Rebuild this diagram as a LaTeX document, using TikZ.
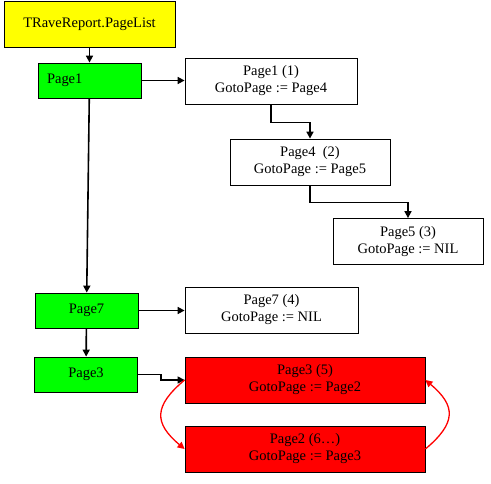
\documentclass[tikz,border=0pt]{standalone}
\usepackage{fontspec}
\setmainfont{Liberation Serif}
\usetikzlibrary{arrows.meta,positioning,calc}
\definecolor{cList}{HTML}{FFFF00}
\definecolor{cPage}{HTML}{00FF00}
\definecolor{cLoop}{HTML}{FF0000}
\definecolor{cInk}{HTML}{000000}

\begin{document}
\begin{tikzpicture}[
    x=1pt, y=1pt,
    font=\fontsize{14.5}{17}\selectfont,
    >={Triangle[length=7pt,width=7pt]},
    every node/.style={text=cInk},
    listbox/.style={
        rectangle, draw=cInk, line width=0.8pt, fill=cList,
        minimum width=171pt, minimum height=46pt, inner sep=0pt
    },
    pagebox/.style={
        rectangle, draw=cInk, line width=0.8pt, fill=cPage,
        minimum width=103pt, minimum height=35pt, inner sep=0pt
    },
    gotobox/.style={
        rectangle, draw=cInk, line width=0.8pt, fill=white,
        minimum height=46pt, align=center, inner sep=0pt
    },
    loopbox/.style={
        gotobox, fill=cLoop, minimum width=240pt
    },
    flow/.style={->, line width=1.6pt, draw=cInk},
    flowloop/.style={->, line width=1.3pt, draw=cLoop},
]
\useasboundingbox (0,0) rectangle (491,-483);

% =====================================================
% Page list (left column)
% =====================================================

\node[listbox] (list) at (89.5,-24) {TRaveReport.PageList};
\node[pagebox, text width=85pt, align=left, inner xsep=9pt] (p1) at (89.5,-80.5) {Page1};
\node[pagebox] (p7) at (86.5,-310.5) {Page7};
\node[pagebox] (p3) at (86,-374.5) {Page3};

% =====================================================
% GotoPage chain (right side)
% =====================================================

\node[gotobox, minimum width=172pt] (g1) at (271,-81)    {Page1 (1)\\GotoPage := Page4};
\node[gotobox, minimum width=160pt] (g4) at (310,-162)   {Page4 \ (2)\\GotoPage := Page5};
\node[gotobox, minimum width=150pt] (g5) at (408,-241.5) {Page5 (3)\\GotoPage := NIL};
\node[gotobox, minimum width=173pt] (g7) at (271.5,-310) {Page7 (4)\\GotoPage := NIL};
\node[loopbox] (g3) at (305,-380) {Page3 (5)\\GotoPage := Page2};
\node[loopbox] (g2) at (305,-449) {Page2 (6\ldots)\\GotoPage := Page3};

% list edges
\draw[flow] (list) -- (p1);
\draw[flow] (p1) -- (p7);
\draw[flow] (p7) -- (p3);

% list -> chain edges
\draw[flow] (p1.east) -- (p1.east -| g1.west);
\draw[flow] (g1.south) -- ++(0,-18) -| (g4.north);
\draw[flow] (g4.south) -- ++(0,-17) -| (g5.north);
\draw[flow] (p7.east) -- (p7.east -| g7.west);
\draw[flow, line width=1.3pt] (p3.east) -- ++(23,0) |- (g3.west);

% Page3 <-> Page2 endless loop
\draw[flowloop] (g3.west) to[out=220, in=140, looseness=1.5] (g2.west);
\draw[flowloop] (g2.east) to[out=40, in=-40, looseness=1.5] (g3.east);

\end{tikzpicture}
\end{document}
